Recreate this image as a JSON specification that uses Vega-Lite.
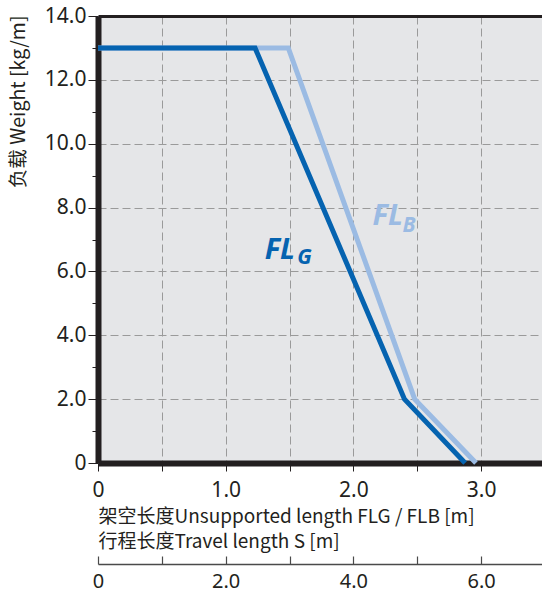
{
  "$schema": "https://vega.github.io/schema/vega-lite/v6.json",
  "width": 444,
  "height": 447,
  "autosize": {"type": "none"},
  "padding": {"left": 98, "top": 16, "right": 0, "bottom": 131},
  "background": "white",
  "config": {"view": {"fill": "#e5e6e8", "stroke": null}},
  "datasets": {
    "lines": [
      {"series": "FL_B", "fl": 0, "weight": 13},
      {"series": "FL_B", "fl": 1.49, "weight": 13},
      {"series": "FL_B", "fl": 2.48, "weight": 2},
      {"series": "FL_B", "fl": 2.96, "weight": 0},
      {"series": "FL_G", "fl": 0, "weight": 13},
      {"series": "FL_G", "fl": 1.23, "weight": 13},
      {"series": "FL_G", "fl": 2.40, "weight": 2},
      {"series": "FL_G", "fl": 2.875, "weight": 0}
    ],
    "labels": [
      {"series": "FL_G", "text": "FL", "lx": 1.305, "ly": 6.39},
      {"series": "FL_B", "text": "FL", "lx": 2.150, "ly": 7.45}
    ],
    "subs": [
      {"series": "FL_G", "text": "G", "lx": 1.56, "ly": 6.23},
      {"series": "FL_B", "text": "B", "lx": 2.385, "ly": 7.23}
    ]
  },
  "layer": [
    {
      "data": {"name": "lines"},
      "mark": {"type": "line", "strokeWidth": 5, "strokeJoin": "miter"},
      "encoding": {
        "x": {
          "field": "fl", "type": "quantitative",
          "scale": {"domain": [0, 3.477], "nice": false, "zero": false},
          "axis": {
            "orient": "bottom",
            "values": [0, 0.5, 1, 1.5, 2, 2.5, 3],
            "labelExpr": "datum.value % 1 == 0 ? (datum.value == 0 ? '0' : format(datum.value, '.1f')) : ''",
            "labelFlush": false,
            "labelFont": "Noto Sans", "labelFontSize": 21, "labelColor": "#231f20",
            "labelPadding": 8,
            "domainColor": "#231f20", "domainWidth": 6,
            "tickColor": "#231f20", "tickWidth": 1, "tickSize": 8,
            "grid": true, "gridColor": "#9a9a9a", "gridWidth": 1, "gridDash": [8, 4],
            "gridOpacity": {"condition": {"test": "datum.value == 0", "value": 0}, "value": 1},
            "title": ["架空长度Unsupported length FLG / FLB [m]", "行程长度Travel length S [m]"],
            "titleFont": "Noto Sans CJK SC", "titleFontSize": 19, "titleFontWeight": "normal",
            "titleColor": "#231f20", "titleAnchor": "start", "titleAlign": "left",
            "titleX": 0, "titleY": 44, "titleBaseline": "top", "titleLineHeight": 25
          }
        },
        "y": {
          "field": "weight", "type": "quantitative",
          "scale": {"domain": [0, 14], "nice": false},
          "axis": {
            "values": [0, 1, 2, 3, 4, 5, 6, 7, 8, 9, 10, 11, 12, 13, 14],
            "labelExpr": "datum.value % 2 == 0 ? (datum.value == 0 ? '0' : format(datum.value, '.1f')) : ''",
            "labelFlush": false,
            "labelFont": "Noto Sans", "labelFontSize": 21, "labelColor": "#231f20",
            "labelPadding": 2,
            "domainColor": "#231f20", "domainWidth": 6,
            "tickColor": "#231f20", "tickWidth": 1,
            "tickSize": {"condition": {"test": "datum.value % 2 == 1", "value": 6}, "value": 10},
            "grid": true, "gridColor": "#9a9a9a", "gridWidth": 1, "gridDash": [8, 4],
            "gridOpacity": {"condition": {"test": "datum.value % 2 == 1 || datum.value == 0 || datum.value == 14", "value": 0}, "value": 1},
            "title": "负载 Weight  [kg/m]",
            "titleFont": "Noto Sans CJK SC", "titleFontSize": 19.5, "titleFontWeight": "normal",
            "titleColor": "#231f20", "titleAngle": 270, "titleX": -80, "titleY": -1,
            "titleAlign": "right", "titleBaseline": "middle"
          }
        },
        "color": {
          "field": "series", "type": "nominal",
          "scale": {"domain": ["FL_B", "FL_G"], "range": ["#9bbbe3", "#0563b0"]},
          "legend": null
        }
      }
    },
    {
      "data": {"name": "labels"},
      "mark": {"type": "text", "font": "Noto Sans", "fontSize": 29, "fontWeight": "bold", "fontStyle": "italic", "align": "left", "baseline": "alphabetic"},
      "encoding": {
        "x": {
          "field": "lx", "type": "quantitative",
          "scale": {"domain": [0, 3.477], "nice": false, "zero": false},
          "axis": {"orient": "top", "labels": false, "ticks": false, "grid": false, "title": null, "domainColor": "#231f20", "domainWidth": 3}
        },
        "y": {"field": "ly", "type": "quantitative", "scale": {"domain": [0, 14], "nice": false}, "axis": null},
        "text": {"field": "text"},
        "color": {"field": "series", "type": "nominal", "scale": {"domain": ["FL_B", "FL_G"], "range": ["#9bbbe3", "#0563b0"]}, "legend": null}
      }
    },
    {
      "data": {"name": "subs"},
      "mark": {"type": "text", "font": "Noto Sans", "fontSize": 21, "fontWeight": "bold", "fontStyle": "italic", "align": "left", "baseline": "alphabetic"},
      "encoding": {
        "x": {"field": "lx", "type": "quantitative", "scale": {"domain": [0, 3.477], "nice": false, "zero": false}, "axis": null},
        "y": {"field": "ly", "type": "quantitative", "scale": {"domain": [0, 14], "nice": false}, "axis": null},
        "text": {"field": "text"},
        "color": {"field": "series", "type": "nominal", "scale": {"domain": ["FL_B", "FL_G"], "range": ["#9bbbe3", "#0563b0"]}, "legend": null}
      }
    },
    {
      "data": {"name": "lines"},
      "mark": {"type": "point", "opacity": 0},
      "encoding": {
        "x": {
          "field": "fl", "type": "quantitative",
          "scale": {"domain": [0, 3.477], "nice": false, "zero": false},
          "axis": {
            "orient": "bottom", "offset": 101,
            "values": [0, 0.5, 1, 1.5, 2, 2.5, 3],
            "labelExpr": "datum.value % 1 == 0 ? (datum.value == 0 ? '0' : format(datum.value * 2, '.1f')) : ''",
            "labelFlush": false,
            "labelFont": "Noto Sans", "labelFontSize": 20, "labelColor": "#231f20",
            "labelPadding": 15,
            "domainColor": "#4a4a4a", "domainWidth": 1.5,
            "tickColor": "#4a4a4a", "tickWidth": 1.2, "tickSize": -8,
            "grid": false, "title": null
          }
        },
        "y": {"field": "weight", "type": "quantitative", "scale": {"domain": [0, 14], "nice": false}, "axis": null}
      }
    }
  ],
  "resolve": {"axis": {"x": "independent", "y": "independent"}}
}
